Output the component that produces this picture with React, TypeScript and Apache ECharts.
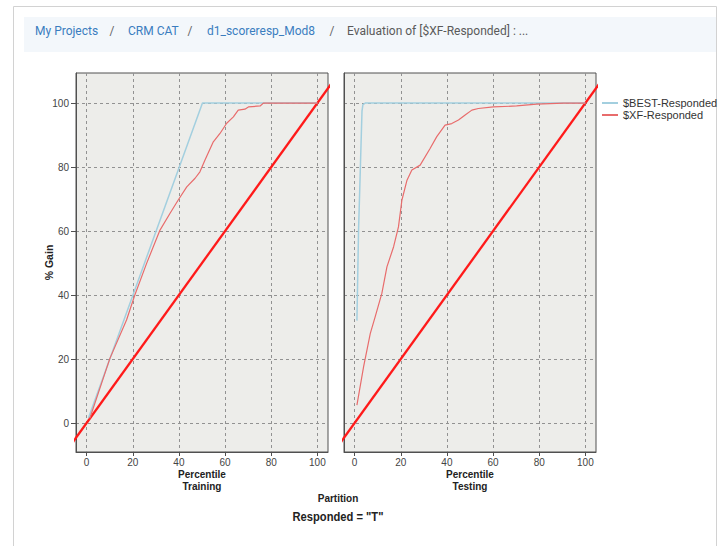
import React, { useEffect, useRef } from "react";
import * as echarts from "echarts";

// ---- data ----
const tickValues = [0, 20, 40, 60, 80, 100];
const partitions = ["Training", "Testing"];
const legendNames = ["$BEST-Responded", "$XF-Responded"];
const breadcrumb = ["My Projects", "CRM CAT", "d1_scoreresp_Mod8", "Evaluation of [$XF-Responded] : ..."];
const yAxisTitle = "% Gain";
const xAxisTitle = "Percentile";
const partitionTitle = "Partition";
const chartTitle = 'Responded = "T"';

const bestTraining = [[0.8, 1.6], [50.2, 100], [100, 100]];
const xfTraining = [
  [1.4, 1.5], [10.1, 20.2], [17.3, 32.2], [20.9, 40.0], [26.0, 49.9], [31.8, 60.3],
  [36.1, 65.5], [39.7, 69.7], [43.4, 73.8], [47.0, 76.5], [49.1, 78.5], [51.3, 82.2],
  [54.9, 87.9], [57.8, 90.5], [60.7, 93.7], [63.6, 95.7], [65.7, 97.8], [68.6, 98.1],
  [70.1, 98.8], [75.2, 99.1], [76.6, 100], [100, 100],
];
const bestTesting = [[1.0, 32], [1.7, 60], [2.5, 80], [3.2, 97.5], [3.6, 99.5], [4.6, 100], [100, 100]];
const xfTesting = [
  [1.0, 5.6], [3.9, 17.6], [6.8, 28.0], [8.9, 33.2], [11.8, 40.5], [14.0, 48.8],
  [16.9, 55.1], [19.0, 61.3], [20.5, 69.7], [22.7, 75.9], [24.8, 79.1], [28.4, 80.6],
  [32.7, 85.8], [35.6, 89.5], [39.2, 93.1], [42.1, 93.6], [45.0, 94.7], [47.9, 96.3],
  [50.8, 97.8], [53.6, 98.3], [60.1, 98.8], [70.2, 99.1], [78.9, 99.7], [90.4, 100], [99.8, 100],
];
const baseline = [[-10, -10], [110, 110]];

const ARIAL = '"Liberation Sans", Arial, sans-serif';

export default function App() {
  const ref = useRef<HTMLDivElement>(null);
  useEffect(() => {
    if (!ref.current) return;
    const chart = echarts.init(ref.current, undefined, { renderer: "svg" });
    const grids = [
      { left: 76, top: 73, width: 252, height: 379 },
      { left: 344, top: 73, width: 252, height: 379 },
    ];
    const gridLine = { show: true, lineStyle: { color: "#929292", type: [3, 3] as any, width: 1 } };
    const xAxes = partitions.map((p, i) => ({
      type: "value",
      gridIndex: i,
      min: -4.6,
      max: 104.6,
      name: xAxisTitle + "\n" + p,
      nameLocation: "middle",
      nameGap: 16,
      nameMoveOverlap: false,
      nameTextStyle: { fontFamily: ARIAL, fontWeight: "bold", fontSize: 10, lineHeight: 12.4, color: "#222" },
      axisLine: { show: true, onZero: false, lineStyle: { color: "#505050" } },
      axisTick: { show: true, length: 4, customValues: tickValues, lineStyle: { color: "#505050" } },
      axisLabel: { customValues: tickValues, fontFamily: ARIAL, fontSize: 10, color: "#444", margin: 5 },
      splitLine: gridLine,
    }));
    const yAxes = partitions.map((p, i) => ({
      type: "value",
      gridIndex: i,
      min: -9.06,
      max: 109.4,
      name: i === 0 ? yAxisTitle : "",
      nameLocation: "middle",
      nameGap: 22,
      nameMoveOverlap: false,
      nameTextStyle: { fontFamily: ARIAL, fontWeight: "bold", fontSize: 10.5, color: "#222" },
      axisLine: { show: true, onZero: false, lineStyle: { color: "#505050" } },
      axisTick: { show: i === 0, length: 5, customValues: tickValues, lineStyle: { color: "#505050" } },
      axisLabel: { show: i === 0, customValues: tickValues, fontFamily: ARIAL, fontSize: 10, color: "#444", margin: 7 },
      splitLine: gridLine,
    }));
    const lineSeries = (name: string, data: number[][], gi: number, color: string, width: number, z: number) => ({
      type: "line",
      name,
      xAxisIndex: gi,
      yAxisIndex: gi,
      data,
      symbol: "none",
      showSymbol: false,
      clip: true,
      z,
      lineStyle: { color, width },
      itemStyle: { color },
      emphasis: { disabled: true },
    });
    const blue = "#a3cfdf";
    const red = "#e86c6c";
    const base = "#ff1a1a";
    const series: any[] = [];
    [[bestTraining, xfTraining], [bestTesting, xfTesting]].forEach((pair, gi) => {
      series.push(lineSeries("baseline", baseline, gi, base, 2.3, 3));
      series.push(lineSeries(legendNames[0], pair[0], gi, blue, 1.5, 4));
      series.push(lineSeries(legendNames[1], pair[1], gi, red, 1.2, 5));
    });

    const crumbX = [35, 128, 207, 347];
    const slashX = [112, 190, 332];
    const graphic: any[] = [
      { type: "rect", shape: { x: 13.5, y: 6.5, width: 703, height: 600 }, style: { fill: "none", stroke: "#d2d2d2", lineWidth: 1 }, z: -10 },
      { type: "rect", shape: { x: 24, y: 17, width: 692, height: 35 }, style: { fill: "#f3f7fb" }, z: -9 },
      ...breadcrumb.map((t, i) => ({
        type: "text",
        x: crumbX[i],
        y: 31,
        style: {
          text: t,
          fill: i < breadcrumb.length - 1 ? "#3a7dbf" : "#5a5a5a",
          font: '12px Roboto, "Noto Sans", sans-serif',
          textVerticalAlign: "middle",
        },
      })),
      ...slashX.map((x) => ({
        type: "text",
        x,
        y: 31,
        style: { text: "/", fill: "#666", font: '12px Roboto, sans-serif', textAlign: "center", textVerticalAlign: "middle" },
      })),
      {
        type: "text",
        x: 338,
        y: 498.7,
        style: { text: partitionTitle, fill: "#222", font: "bold 10px " + ARIAL, textAlign: "center", textVerticalAlign: "middle" },
      },
      {
        type: "text",
        x: 338,
        y: 516.7,
        scaleX: 0.86,
        style: { text: chartTitle, fill: "#222", font: "bold 13px " + ARIAL, textAlign: "center", textVerticalAlign: "middle" },
      },
    ];

    chart.setOption({
      animation: false,
      backgroundColor: "#ffffff",
      grid: grids.map((g) => ({ ...g, show: true, backgroundColor: "#ededea", borderColor: "#505050", borderWidth: 1 })),
      xAxis: xAxes,
      yAxis: yAxes,
      legend: {
        data: legendNames,
        orient: "vertical",
        left: 602,
        top: 97,
        icon: "rect",
        itemWidth: 16,
        itemHeight: 2,
        itemGap: 0,
        padding: 0,
        textStyle: { fontFamily: ARIAL, fontSize: 11, color: "#333", lineHeight: 12 },
        selectedMode: false,
      },
      tooltip: { show: false },
      graphic,
      series,
    });
    return () => chart.dispose();
  }, []);
  return (
    <div style={{ position: "fixed", left: 0, top: 0, width: 727, height: 546, background: "#fff" }}>
      <div ref={ref} style={{ width: 727, height: 546 }} />
    </div>
  );
}
